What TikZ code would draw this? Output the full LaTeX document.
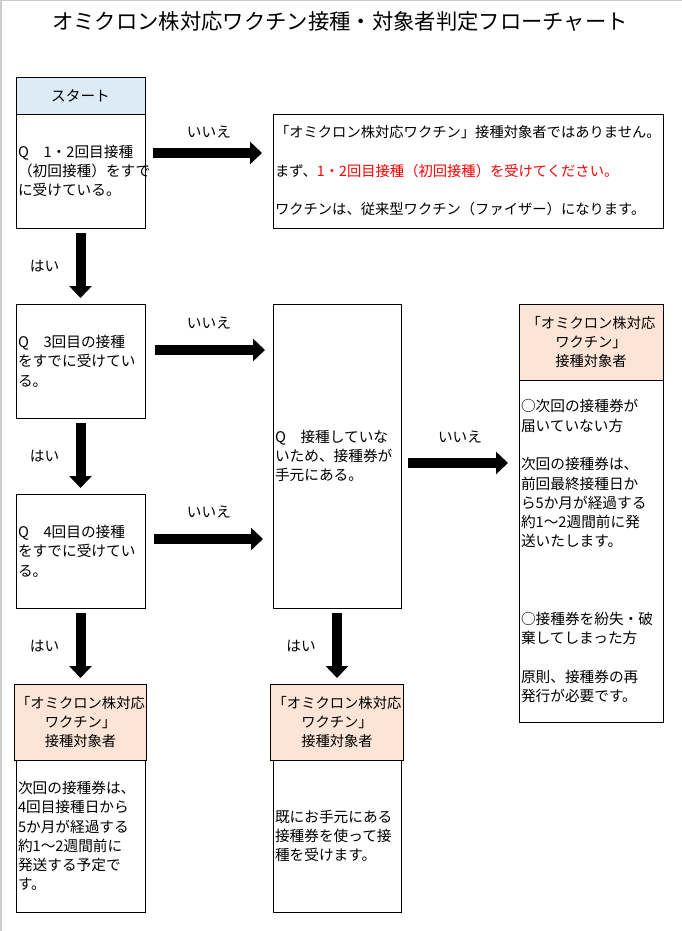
\documentclass[tikz,border=0pt]{standalone}
\usepackage{fontspec}
\setmainfont{Noto Sans CJK JP}
\usetikzlibrary{positioning,arrows.meta}
\definecolor{startblue}{HTML}{DDEBF7}
\definecolor{okpeach}{HTML}{FCE4D6}
\definecolor{warnred}{HTML}{FF0000}
\begin{document}
\begin{tikzpicture}[x=1pt,y=-1pt,
    box/.style={draw,line width=0.8pt,inner sep=2pt,outer sep=0pt,font=\fontsize{14.67}{19.3}\selectfont},
    qbox/.style={box,minimum width=129pt,minimum height=114pt,text width=125pt,align=left},
    headbox/.style={box,fill=okpeach,minimum height=76pt,align=center,font=\fontsize{14.3}{19}\selectfont},
    bigarrow/.style={line width=10pt,-{Triangle[width=22pt,length=12pt]}},
    lbl/.style={font=\fontsize{14.67}{17}\selectfont}]
    \useasboundingbox (0,0) rectangle (682,931);
    \draw[gray!40,line width=1.5pt] (0.75,931) -- (0.75,0.75) -- (682,0.75);
    \node[font=\fontsize{21.33}{25}\selectfont] (title) at (340,21) {オミクロン株対応ワクチン接種・対象者判定フローチャート};
    % left column
    \node[box,fill=startblue,minimum width=129pt,minimum height=37pt] (start) at (80.5,95.5) {スタート};
    \node[qbox,below=0pt of start] (q1) {Q　1・2回目接種\\（初回接種）をすで\\に受けている。};
    \node[qbox] (q3) at (80.5,361) {Q　3回目の接種\\をすでに受けてい\\る。};
    \node[qbox] (q4) at (80.5,551) {Q　4回目の接種\\をすでに受けてい\\る。};
    \node[headbox,minimum width=129pt] (lhead) at (80.5,722) {「オミクロン株対応\\ワクチン」\\接種対象者};
    \node[box,below=0pt of lhead,minimum width=129pt,minimum height=152pt,text width=125pt,align=left] (lbody)
        {次回の接種券は、\\4回目接種日から\\5か月が経過する\\約1〜2週間前に\\発送する予定で\\す。};
    % middle column
    \node[box,minimum width=390pt,minimum height=114pt,text width=386pt,align=left,font=\fontsize{14.3}{19.3}\selectfont] (notyet) at (468,171)
        {「オミクロン株対応ワクチン」接種対象者ではありません。\\[19.3pt]
         まず、{\color{warnred}1・2回目接種（初回接種）を受けてください。}\\[19.3pt]
         ワクチンは、従来型ワクチン（ファイザー）になります。};
    \node[box,minimum width=128pt,minimum height=304pt,text width=124pt,align=left] (ticket) at (337,456)
        {Q　接種していな\\いため、接種券が\\手元にある。};
    \node[headbox,minimum width=128pt] (mhead) at (337,722) {「オミクロン株対応\\ワクチン」\\接種対象者};
    \node[box,below=0pt of mhead,minimum width=128pt,minimum height=152pt,text width=124pt,align=left] (mbody)
        {既にお手元にある\\接種券を使って接\\種を受けます。};
    % right column
    \node[headbox,minimum width=144pt] (rhead) at (591,342) {「オミクロン株対応\\ワクチン」\\接種対象者};
    \node[box,below=0pt of rhead,minimum width=144pt,minimum height=342pt,text width=140pt,align=left] (rbody)
        {○次回の接種券が\\届いていない方\\[19.3pt]
         次回の接種券は、\\前回最終接種日か\\ら5か月が経過する\\約1〜2週間前に発\\送いたします。\\[57.9pt]
         ○接種券を紛失・破\\棄してしまった方\\[19.3pt]
         原則、接種券の再\\発行が必要です。};
    % arrows
    \coordinate (a1) at ([yshift=18pt]q1.east);
    \coordinate (a3) at ([yshift=11pt]q3.east);
    \coordinate (a4) at ([yshift=12pt]q4.east);
    \coordinate (a5) at ([yshift=-7pt]ticket.east);
    \draw[bigarrow,shorten <=8pt,shorten >=11pt] (a1) -- (a1 -| notyet.west) node[lbl,midway,yshift=21pt] (no1) {いいえ};
    \draw[bigarrow,shorten <=10pt,shorten >=8pt] (a3) -- (a3 -| ticket.west) node[lbl,midway,yshift=27pt] (no3) {いいえ};
    \draw[bigarrow,shorten <=9pt,shorten >=10pt] (a4) -- (a4 -| ticket.west) node[lbl,midway,yshift=27pt] (no4) {いいえ};
    \draw[bigarrow,shorten <=7pt,shorten >=11pt] (a5) -- (a5 -| rbody.west) node[lbl,midway,yshift=26pt] (no5) {いいえ};
    \draw[bigarrow,shorten <=5pt,shorten >=6pt] (q1.south) -- (q3.north) node[lbl,midway,xshift=-36pt] (yes1) {はい};
    \draw[bigarrow,shorten <=5pt,shorten >=6pt] (q3.south) -- (q4.north) node[lbl,midway,xshift=-36pt] (yes3) {はい};
    \draw[bigarrow,shorten <=5pt,shorten >=6pt] (q4.south) -- (lhead.north) node[lbl,midway,xshift=-36pt] (yes4) {はい};
    \draw[bigarrow,shorten <=5pt,shorten >=6pt] (ticket.south) -- (mhead.north) node[lbl,midway,xshift=-36pt] (yes5) {はい};
\end{tikzpicture}
\end{document}
